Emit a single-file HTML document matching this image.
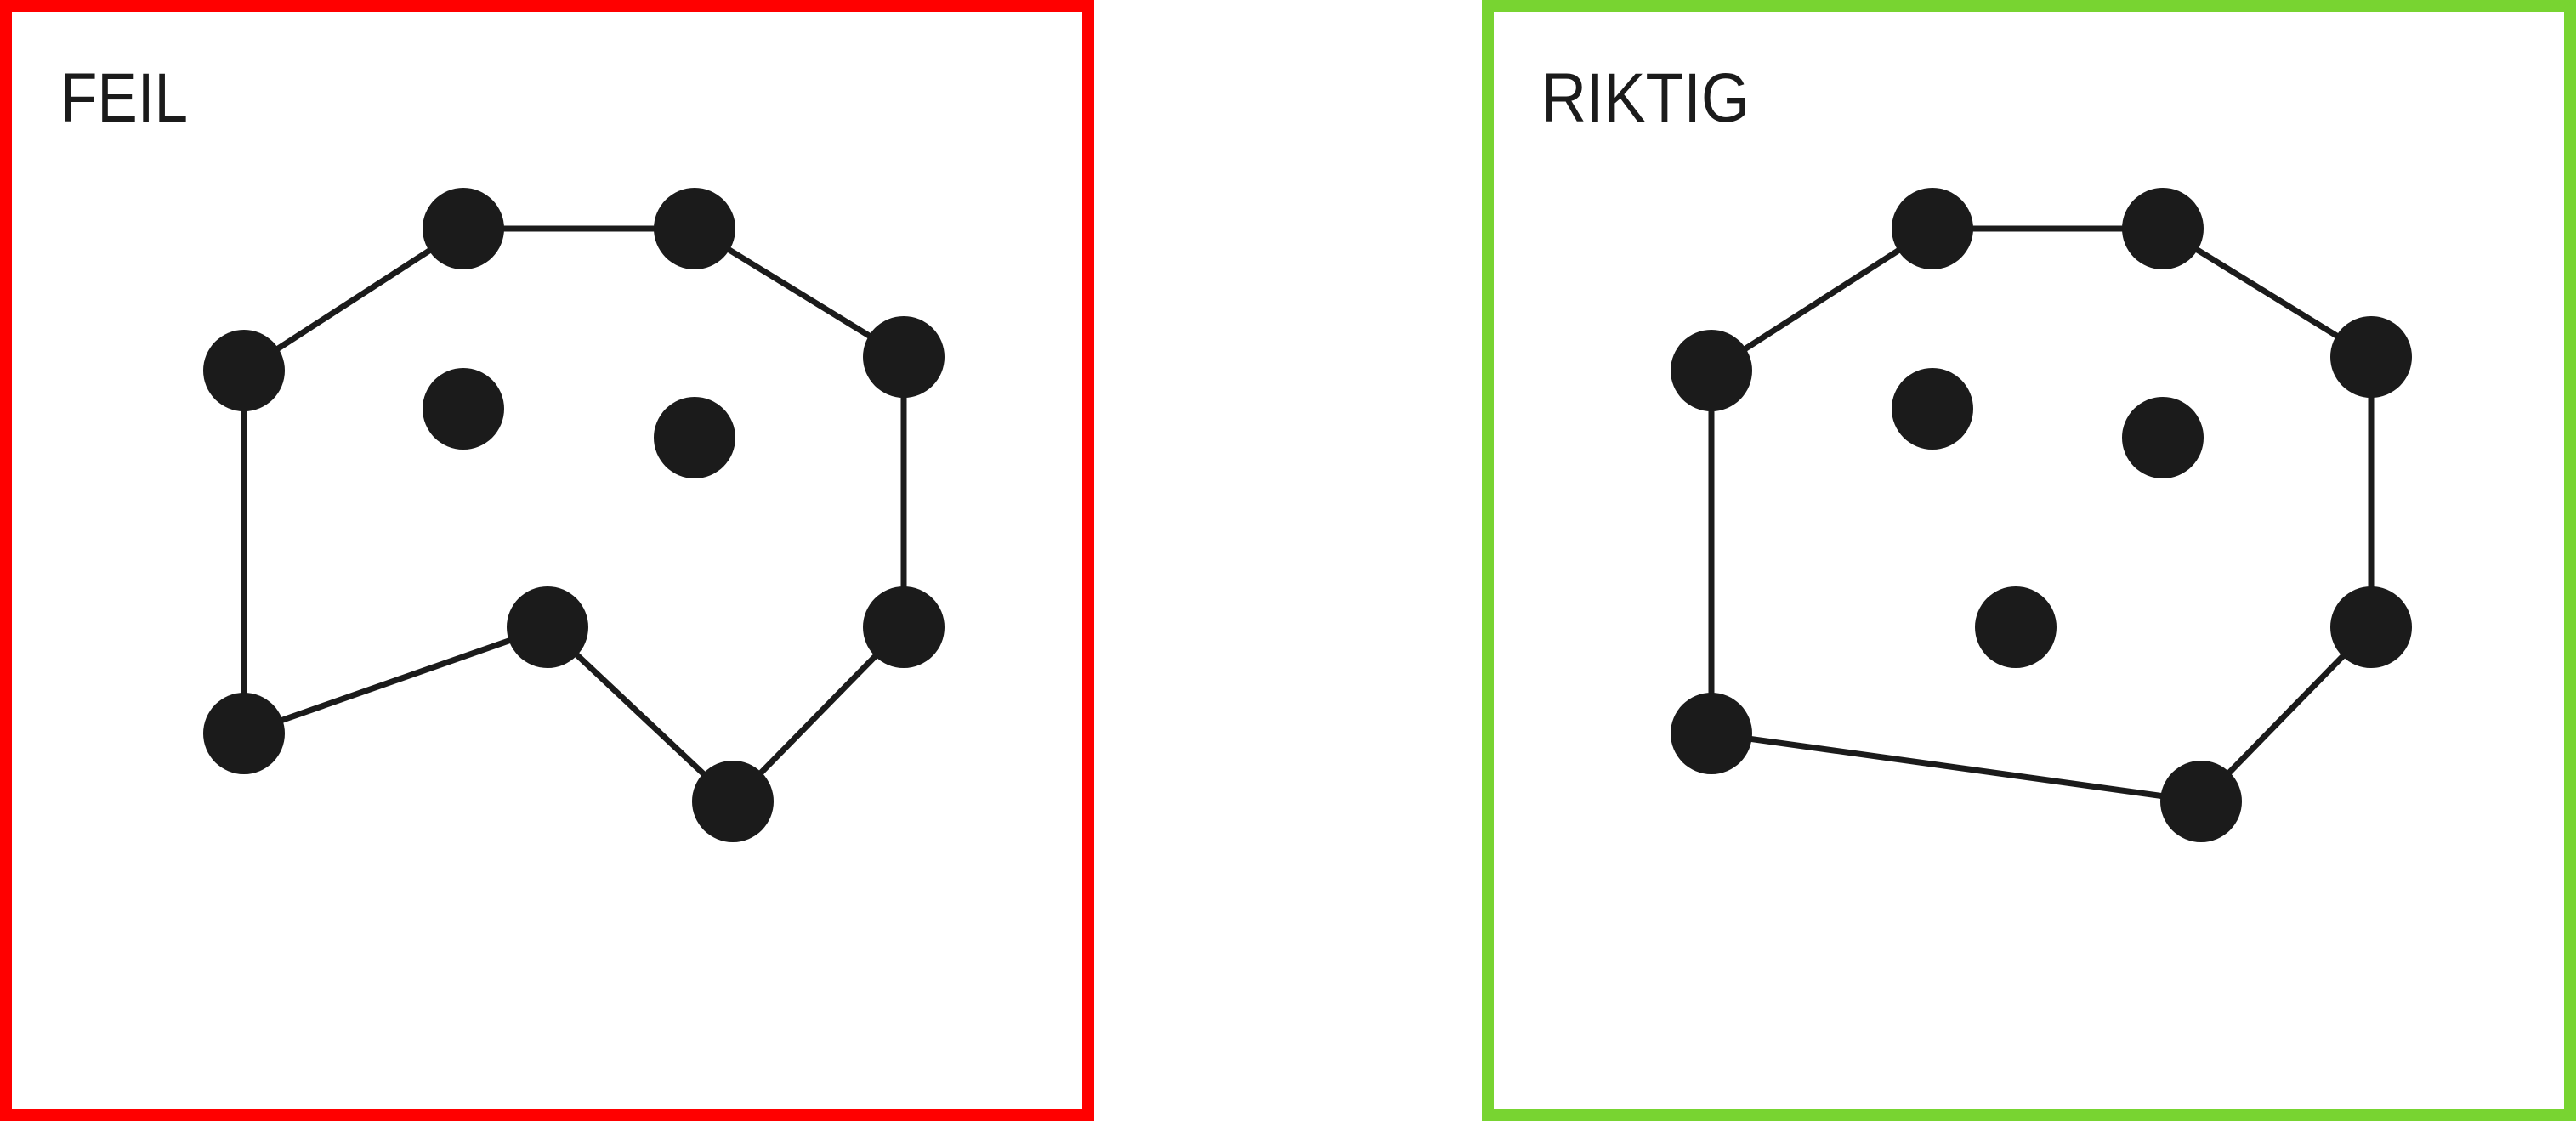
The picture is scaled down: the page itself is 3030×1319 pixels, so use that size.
<!DOCTYPE html>
<html><head><meta charset="utf-8"><style>
html,body{margin:0;padding:0;background:#fff;}
svg{display:block;}
</style></head><body>
<svg width="3030" height="1319" viewBox="0 0 3030 1319">
<rect x="7" y="7" width="1273" height="1305" fill="none" stroke="#ff0000" stroke-width="14"/>
<rect x="1750" y="7" width="1273" height="1305" fill="none" stroke="#78d431" stroke-width="14"/>
<text x="71" y="143" font-family="Liberation Sans, sans-serif" font-size="82" fill="#1b1b1b" textLength="150" lengthAdjust="spacingAndGlyphs">FEIL</text>
<text x="1813" y="143" font-family="Liberation Sans, sans-serif" font-size="82" fill="#1b1b1b" textLength="245" lengthAdjust="spacingAndGlyphs">RIKTIG</text>
<g id="g"></g>
</svg>
<script>
const leftPoints = [[287,436],[545,269],[817,269],[1063,420],[1063,738],[862,943],[644,738],[287,863],[545,481],[817,515]];
const leftHull = [0,1,2,3,4,5,6,7,0];
const rightPoints = [[2013,436],[2273,269],[2544,269],[2789,420],[2789,738],[2589,943],[2371,738],[2013,863],[2273,481],[2544,515]];
const rightHull = [0,1,2,3,4,5,7,0];
const NS='http://www.w3.org/2000/svg';
const g=document.getElementById('g');
function draw(pts,hull,prefix){
  for(let i=0;i<hull.length-1;i++){
    const a=pts[hull[i]],b=pts[hull[i+1]];
    const l=document.createElementNS(NS,'line');
    l.setAttribute('x1',a[0]);l.setAttribute('y1',a[1]);l.setAttribute('x2',b[0]);l.setAttribute('y2',b[1]);
    l.setAttribute('stroke','#1b1b1b');l.setAttribute('stroke-width','7');
    
    
    g.appendChild(l);
  }
  pts.forEach(p=>{
    const c=document.createElementNS(NS,'circle');
    c.setAttribute('cx',p[0]);c.setAttribute('cy',p[1]);c.setAttribute('r','48');c.setAttribute('fill','#1b1b1b');
    
    
    g.appendChild(c);
  });
}
draw(leftPoints,leftHull,'wrong');
draw(rightPoints,rightHull,'correct');
</script>
</body></html>
